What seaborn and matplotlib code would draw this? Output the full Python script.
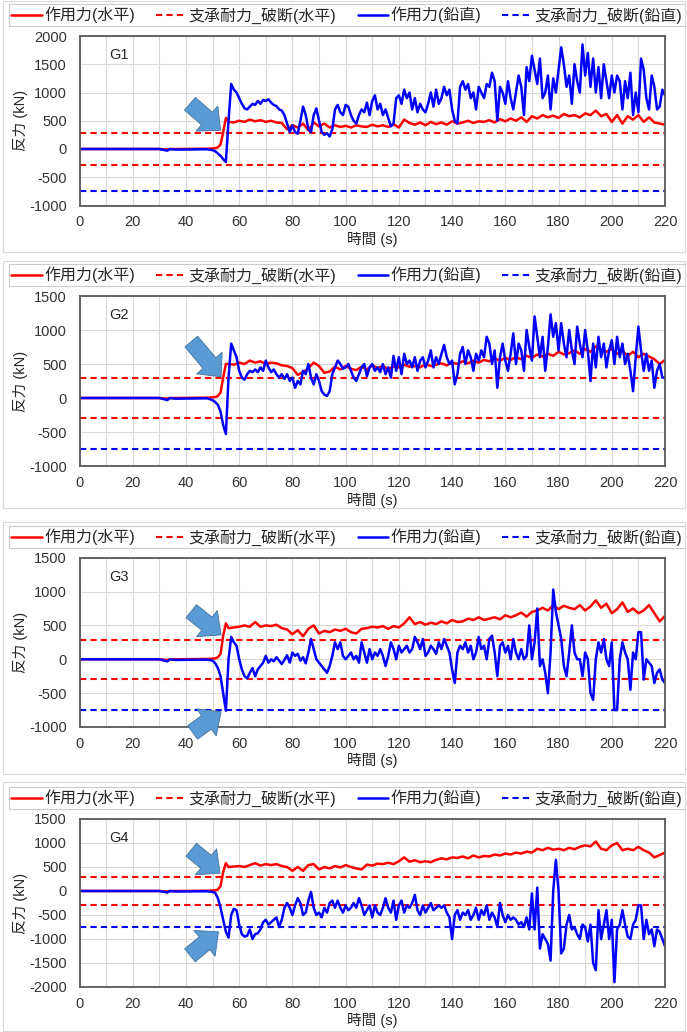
import matplotlib
matplotlib.use("Agg")
import matplotlib.pyplot as plt
import matplotlib.patches as mpatches
import seaborn as sns
import pandas as pd

# time axis (s)
t_early = [0, 30, 33, 34, 36, 48, 50, 51, 52, 53, 54, 55]
t_h = t_early + list(range(56, 221, 2))
t_v = t_early + list(range(56, 221))

# bearing capacity (kN)
cap_h = 290
cap_v = -750

# G1
g1_h = [0, 0, -10, 0, 0, 5, 10, 15, 30, 80, 300, 550,
        480, 470, 500, 480, 520, 490, 510, 480, 500, 470,
        460, 350, 420, 380, 450, 330, 470, 400, 450, 380,
        420, 390, 410, 380, 420, 400, 390, 430, 400, 420,
        390, 440, 380, 520, 460, 430, 470, 420, 480, 440,
        470, 430, 490, 450, 470, 500, 460, 490, 480, 510,
        470, 530, 490, 540, 500, 560, 480, 580, 540, 600,
        560, 590, 550, 620, 580, 600, 560, 630, 600, 680,
        580, 620, 480, 600, 450, 580, 520, 600, 480, 560,
        470, 450, 430]
g1_v = [0, 0, -30, 0, -10, -5, -20, -40, -80, -120, -180, -230,
        500, 1150, 1050, 1000, 900,
        800, 720, 700, 750, 800, 780, 850, 800, 870, 850,
        880, 820, 780, 760, 700, 680, 600, 450, 300, 420,
        300, 270, 500, 750, 600, 350, 300, 600, 720, 500,
        300, 250, 280, 220, 350, 700, 780, 650, 600, 780,
        750, 600, 500, 450, 600, 700, 650, 820, 600, 850,
        950, 700, 800, 600, 700, 550, 400, 450, 900, 950,
        800, 1050, 900, 1000, 700, 900, 650, 800, 700, 650,
        800, 1000, 750, 1050, 800, 900, 1100, 950, 1050, 700,
        500, 450, 1100, 1200, 1050, 1150, 900, 1000, 700, 1100,
        1000, 900, 1150, 1100, 1350, 1200, 500, 1100, 1000, 800,
        1200, 900, 700, 1000, 1300, 1100, 600, 1450, 1200, 1650,
        1400, 1150, 1600, 900, 1000, 1300, 700, 1250, 1000, 1400,
        1800, 1500, 1100, 1300, 800, 1500, 1200, 1000, 1850, 1300,
        1700, 1100, 1600, 1000, 1450, 900, 1500, 1200, 900, 1300,
        1000, 1300, 1200, 700, 1200, 900, 1350, 600, 1000, 650,
        1600, 1400, 900, 700, 1300, 1100, 700, 750, 1050, 950]

# G2
g2_h = [0, 0, -10, 0, 0, 5, 10, 15, 30, 80, 300, 500,
        500, 490, 520, 500, 550, 520, 540, 500, 520, 510,
        480, 470, 440, 340, 380, 440, 520, 470, 370, 390,
        460, 420, 470, 430, 410, 460, 420, 480, 440, 470,
        430, 460, 450, 490, 460, 470, 450, 500, 470, 490,
        510, 480, 520, 500, 540, 510, 550, 520, 560, 540,
        580, 550, 590, 560, 600, 570, 620, 590, 640, 610,
        650, 620, 680, 640, 660, 700, 650, 720, 680, 760,
        700, 680, 720, 650, 690, 620, 680, 600, 650, 610,
        570, 500, 560]
g2_v = [0, 0, -30, 0, -10, -5, -30, -60, -100, -200, -400, -530,
        300, 800, 700, 600, 400,
        300, 270, 350, 400, 380, 420, 380, 450, 400, 550,
        450, 380, 420, 350, 300, 350, 280, 350, 250, 300,
        150, 250, 200, 400, 350, 500, 300, 200, 350, 250,
        100, 50, 30, 100, 350, 450, 550, 500, 430, 450,
        500, 400, 300, 250, 350, 450, 500, 320, 450, 500,
        400, 450, 380, 500, 350, 450, 300, 620, 400, 600,
        350, 650, 500, 550, 450, 600, 400, 550, 600, 450,
        550, 700, 450, 600, 500, 650, 780, 600, 500, 550,
        200, 350, 650, 750, 500, 700, 600, 400, 650, 550,
        700, 600, 900, 800, 500, 700, 150, 600, 800, 550,
        400, 650, 950, 500, 800, 700, 400, 1000, 750, 550,
        1200, 900, 600, 900, 400, 750, 1230, 900, 1100, 700,
        1100, 800, 600, 1000, 700, 500, 1050, 800, 600, 1000,
        700, 250, 800, 450, 900, 600, 800, 450, 700, 850,
        500, 900, 600, 800, 500, 650, 400, 100, 600, 1050,
        700, 400, 650, 400, 550, 150, 400, 500, 300, 300]

# G3
g3_h = [0, 0, -10, 0, 0, 5, 10, 15, 30, 80, 350, 530,
        460, 470, 480, 500, 480, 550, 480, 500, 490, 510,
        460, 440, 370, 430, 340, 450, 500, 380, 420, 400,
        440, 420, 450, 400, 380, 450, 460, 480, 470, 490,
        450, 490, 470, 530, 620, 520, 550, 510, 540, 520,
        560, 530, 580, 550, 560, 600, 580, 620, 580, 600,
        620, 590, 650, 620, 650, 690, 630, 700, 720, 760,
        720, 800, 740, 790, 760, 740, 800, 720, 780, 870,
        760, 820, 680, 740, 840, 700, 750, 680, 720, 800,
        680, 560, 640]
g3_v = [0, 0, -30, 0, -10, -5, -20, -60, -130, -250, -500, -760,
        0, 330, 250, 200, 0,
        -150, -250, -280, -200, -130, -250, -150, -100, -50, 50,
        -50, 0, -30, 30, -20, -70, -10, 60, -50, 100,
        50, 80, -20, 30, -60, 100, 300, 150, 0, -50,
        -100, -150, -200, -100, 50, 250, 150, 250, 50, 0,
        50, 100, 0, 50, -50, 250, 100, -50, 150, 0,
        100, 50, 150, 50, -100, 50, 250, 150, 0, 200,
        100, 150, 200, 100, 150, 330, 250, 150, 300, 50,
        100, 200, 150, 80, 250, 150, 300, 200, 100, -150,
        -350, 100, 200, 150, 250, 100, 200, 0, 100, 330,
        150, 200, 0, 300, 350, 100, -250, 200, 250, 100,
        200, 0, 300, 100, 0, 150, 0, 50, 500, 0,
        250, 750, -100, 0, -200, -500, 100, 1030, 700, 500,
        300, -100, -250, 100, 500, 100, 0, 0, -250, 100,
        0, -500, -600, 0, 250, 100, 300, 0, -100, 250,
        -750, -750, 0, 250, 100, 0, -450, 100, 0, 400,
        400, -300, 0, -50, -100, -350, -200, -150, -300, -350]

# G4
g4_h = [0, 0, -10, 0, 0, 5, 10, 15, 30, 100, 400, 580,
        500, 510, 520, 500, 540, 580, 530, 560, 540, 560,
        520, 500, 420, 500, 420, 540, 560, 450, 500, 470,
        520, 490, 540, 500, 470, 450, 550, 530, 570, 560,
        590, 560, 620, 700, 610, 640, 600, 620, 600, 650,
        680, 660, 700, 690, 720, 680, 740, 700, 730, 720,
        760, 740, 780, 760, 800, 780, 820, 800, 880, 850,
        900, 860, 880, 850, 900, 870, 920, 950, 930, 1030,
        880, 850, 950, 1000, 850, 880, 850, 920, 850, 800,
        700, 750, 800]
g4_v = [0, 0, -30, 0, -10, -5, -20, -40, -150, -350, -600, -850,
        -970, -500, -370, -400, -700,
        -900, -950, -930, -800, -1000, -900, -880, -800, -650, -600,
        -700, -650, -600, -550, -750, -600, -350, -250, -350, -500,
        -300, -150, -250, -500, -450, -200, -20, -350, -500, -450,
        -550, -350, -450, -250, -200, -350, -200, -350, -450, -300,
        -400, -350, -250, -350, -150, -300, -500, -400, -300, -550,
        -300, -450, -500, -350, -150, -350, -450, -200, -600, -300,
        -200, -450, -300, -350, -250, -80, -400, -500, -300, -450,
        -350, -250, -400, -350, -300, -350, -300, -450, -550, -1000,
        -500, -400, -600, -450, -500, -400, -600, -500, -350, -600,
        -400, -500, -300, -600, -450, -550, -750, -250, -500, -650,
        -500, -600, -550, -600, -700, -650, -750, -550, -800, -50,
        -800, 70, -1200, -900, -1000, -1100, -1450, 0, 650, 0,
        -1300, -1200, -700, -500, -800, -750, -900, -1000, -700, -750,
        -1050, -700, -1500, -1650, -400, -1000, -700, -400, -1000, -600,
        -1900, -800, -700, -400, -700, -950, -1000, -700, -600, -300,
        -300, -1000, -600, -900, -800, -1150, -800, -850, -1000, -1150]

names = ["G1", "G2", "G3", "G4"]
h_series = [g1_h, g2_h, g3_h, g4_h]
v_series = [g1_v, g2_v, g3_v, g4_v]
ylims = [(-1000, 2000), (-1000, 1500), (-1000, 1500), (-2000, 1500)]
labels = ["作用力(水平)", "支承耐力_破断(水平)", "作用力(鉛直)", "支承耐力_破断(鉛直)"]

# arrows: (tail, tip) in data coords, per panel
arrows = [
    [((41.5, 800), (53, 330))],
    [((42, 830), (53.2, 311))],
    [((42, 710), (53.2, 360)), ((42.5, -1080), (53.2, -775))],
    [((42, 860), (52.8, 370)), ((41.5, -1340), (52.2, -850))],
]

sns.set_style("white")
plt.rcParams['font.family'] = ['Liberation Sans', 'Noto Sans CJK JP', 'DejaVu Sans']
plt.rcParams['axes.unicode_minus'] = False

fig = plt.figure(figsize=(6.87, 10.32), dpi=100)
W, H = 687.0, 1032.0

# axes boxes in pixels: top, bottom
ax_px = [(36, 205.5), (296, 466), (557.7, 727), (819, 987)]
leg_px = [(4, 26), (264, 286), (528, 548), (788, 809)]
frame_px = [(1, 252), (261, 508), (522, 774), (782, 1031)]
left_px, right_px = 79.5, 665

for i in range(4):
    top, bot = ax_px[i]
    # light panel frame
    f0, f1 = frame_px[i]
    fig.patches.append(mpatches.Rectangle((3 / W, 1 - f1 / H), 682 / W, (f1 - f0) / H,
                                          transform=fig.transFigure, fill=False,
                                          ec='#d9d9d9', lw=0.8))
    ax = fig.add_axes([left_px / W, 1 - bot / H, (right_px - left_px) / W, (bot - top) / H])

    df_h = pd.DataFrame({"t": t_h, "f": h_series[i]})
    df_v = pd.DataFrame({"t": t_v, "f": v_series[i]})

    sns.lineplot(data=df_h, x="t", y="f", ax=ax, color="#ff0000", lw=1.8,
                 estimator=None, sort=False, label=labels[0])
    ax.axhline(cap_h, color="#ff0000", lw=1.5, ls=(0, (3, 2)), label=labels[1])
    ax.axhline(-cap_h, color="#ff0000", lw=1.5, ls=(0, (3, 2)))
    sns.lineplot(data=df_v, x="t", y="f", ax=ax, color="#0000ff", lw=1.8,
                 estimator=None, sort=False, label=labels[2])
    ax.axhline(cap_v, color="#0000ff", lw=1.5, ls=(0, (3, 2)), label=labels[3])

    ax.set_xlim(0, 220)
    ax.set_ylim(*ylims[i])
    ax.set_xticks(range(0, 221, 20))
    ax.set_xticks(range(0, 221, 10), minor=True)
    ax.set_yticks(range(ylims[i][0], ylims[i][1] + 1, 500))
    ax.grid(True, which='both', axis='x', color='#d9d9d9', lw=0.8)
    ax.grid(True, which='major', axis='y', color='#d9d9d9', lw=0.8)
    ax.set_axisbelow(True)
    ax.tick_params(which='both', length=0, labelsize=10.5, colors='#333333')
    ax.tick_params(axis='x', pad=7)
    ax.tick_params(axis='y', pad=9)
    for s in ax.spines.values():
        s.set_color('#595959')
        s.set_linewidth(1.3)

    ax.set_xlabel("時間 (s)", fontsize=10.5, labelpad=2)
    ax.set_ylabel("反力 (kN)", fontsize=10.5, labelpad=1)
    ax.text(0.05, 0.93, names[i], transform=ax.transAxes, fontsize=10.5,
            ha='left', va='top')

    for tail, tip in arrows[i]:
        an = ax.annotate('', xy=tip, xytext=tail, annotation_clip=False,
                         arrowprops=dict(arrowstyle='simple,head_length=1.3,head_width=2.4,tail_width=1.2',
                                         mutation_scale=10, fc='#5b9bd5', ec='#41719c', lw=0.6,
                                         shrinkA=0, shrinkB=0))
        an.arrow_patch.set_clip_on(False)

    handles, labs = ax.get_legend_handles_labels()
    ax.get_legend().remove()
    l0, l1 = leg_px[i]
    leg = ax.legend(handles, labs, loc='lower left', ncol=4, mode='expand',
                    bbox_to_anchor=(9 / W, 1 - l1 / H, 676 / W, (l1 - l0) / H),
                    bbox_transform=fig.transFigure, fontsize=11.5, frameon=True,
                    fancybox=False, edgecolor='#bfbfbf', borderaxespad=0,
                    borderpad=0.15, handlelength=1.9, handletextpad=0.15,
                    columnspacing=0.2)
    leg.get_frame().set_linewidth(0.8)

fig.savefig("out.png", dpi=100, facecolor='white')
